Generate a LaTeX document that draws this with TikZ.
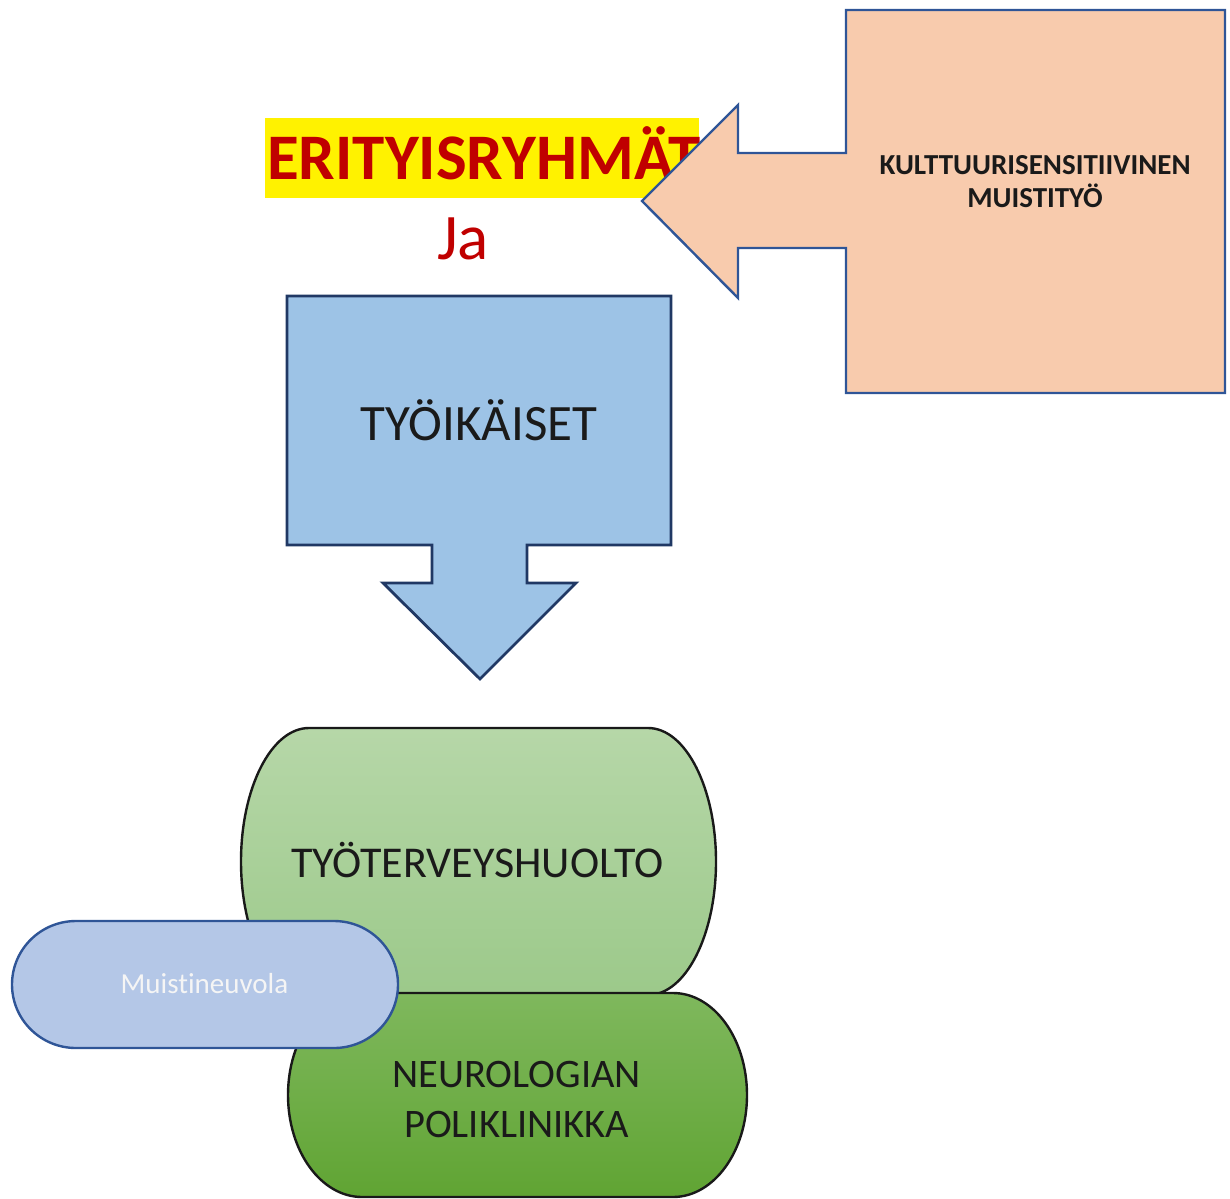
\documentclass[tikz,border=0pt]{standalone}
\usepackage{fontspec}
\setmainfont{Carlito}[Ligatures={NoCommon}]
\definecolor{salmon}{HTML}{F8CBAD}
\definecolor{salmonline}{HTML}{2F5597}
\definecolor{callblue}{HTML}{9DC3E6}
\definecolor{callline}{HTML}{203864}
\definecolor{gOneTop}{HTML}{B6D7A8}
\definecolor{gOneBot}{HTML}{9CC98A}
\definecolor{gTwoTop}{HTML}{7FB85D}
\definecolor{gTwoBot}{HTML}{60A433}
\definecolor{pillblue}{HTML}{B4C7E7}
\definecolor{pillline}{HTML}{2F5597}
\definecolor{darkred}{HTML}{C00000}
\definecolor{txt}{HTML}{1A1A1A}
\begin{document}
\begin{tikzpicture}[x=1pt,y=-1pt,
  lbl/.style={inner sep=0pt, anchor=base, text=txt},
  calloutshape/.style={line width=2.4pt, line join=miter},
  capsule/.style={line width=2.4pt, draw=black!90}]
\useasboundingbox (0,0) rectangle (1230,1198);
% title with highlight
\fill[yellow] (265,118) rectangle (699,198);
\node[inner sep=0pt, anchor=base west, text=darkred, font=\bfseries\fontsize{65}{78}\selectfont] (title) at (267,180) {ERITYISRYHMÄT};
% salmon left-arrow callout
\path[calloutshape, fill=salmon, draw=salmonline]
  (846,10) -- (1225,10) -- (1225,393) -- (846,393) -- (846,248) -- (738,248)
  -- (738,298) -- (642,201) -- (738,105) -- (738,153) -- (846,153) -- cycle;
\node[lbl, font=\bfseries\fontsize{29}{35}\selectfont] (kult1) at (1035,175) {KULTTUURISENSITIIVINEN};
\node[lbl, font=\bfseries\fontsize{29}{35}\selectfont] (kult2) at (1035,208) {MUISTITYÖ};
% Ja
\node[lbl, text=darkred, font=\fontsize{65}{78}\selectfont] (ja) at (463,259) {Ja};
% blue down-arrow callout
\path[calloutshape, line width=2.8pt, fill=callblue, draw=callline]
  (287,296) -- (671,296) -- (671,545) -- (527,545) -- (527,583) -- (576,583)
  -- (480,679) -- (383,583) -- (432,583) -- (432,545) -- (287,545) -- cycle;
\node[lbl, font=\fontsize{51}{61}\selectfont] (tyoik) at (479,440) {TYÖIKÄISET};
% green capsule 1
\path[capsule, top color=gOneTop, bottom color=gOneBot]
  (309,728) -- (648,728) .. controls (685.6,728) and (716,787.8) .. (716,861.5)
  .. controls (716,935.2) and (685.6,995) .. (648,995) -- (309,995)
  .. controls (271.4,995) and (241,935.2) .. (241,861.5)
  .. controls (241,787.8) and (271.4,728) .. cycle;
\node[lbl, font=\fontsize{44}{53}\selectfont] (tth) at (477.5,877) {TYÖTERVEYSHUOLTO};
% green capsule 2
\path[capsule, top color=gTwoTop, bottom color=gTwoBot]
  (362,993) -- (673,993) .. controls (713.9,993) and (747,1038.7) .. (747,1095)
  .. controls (747,1151.3) and (713.9,1197) .. (673,1197) -- (362,1197)
  .. controls (321.1,1197) and (288,1151.3) .. (288,1095)
  .. controls (288,1038.7) and (321.1,993) .. cycle;
\node[lbl, font=\fontsize{40.5}{48}\selectfont] (neuro) at (516.7,1087) {NEUROLOGIAN};
\node[lbl, font=\fontsize{40.5}{48}\selectfont] (polik) at (516.7,1137) {POLIKLINIKKA};
% Muistineuvola pill
\path[line width=2.4pt, fill=pillblue, draw=pillline]
  (76,921) -- (334,921) .. controls (369.3,921) and (398,949.4) .. (398,984.5)
  .. controls (398,1019.6) and (369.3,1048) .. (334,1048) -- (76,1048)
  .. controls (40.7,1048) and (12,1019.6) .. (12,984.5)
  .. controls (12,949.4) and (40.7,921) .. cycle;
\node[lbl, text=white!96!black, font=\fontsize{29}{35}\selectfont] (muisti) at (204.5,993) {Muistineuvola};
\end{tikzpicture}
\end{document}
